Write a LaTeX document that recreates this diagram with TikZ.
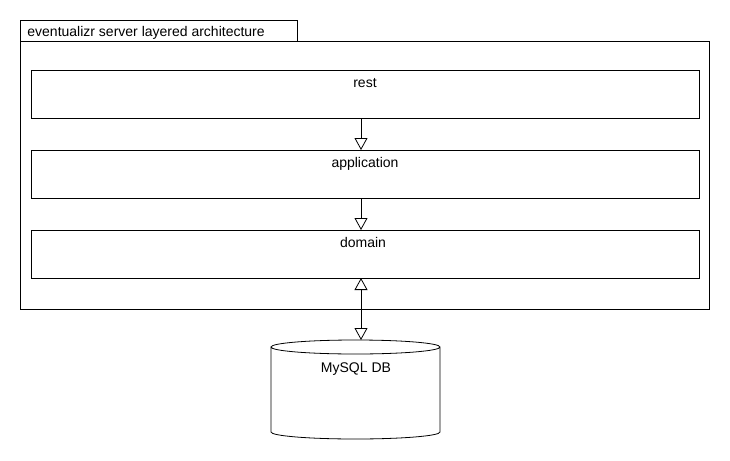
\documentclass[tikz,border=0pt]{standalone}
\usepackage{fontspec}
\setmainfont{Liberation Sans}
\usetikzlibrary{arrows.meta,positioning}
\begin{document}
\begin{tikzpicture}[x=1pt,y=-1pt,
  line width=0.8pt,
  every node/.style={font=\fontsize{14}{16}\selectfont},
  layer/.style={draw, minimum width=668pt, minimum height=48pt, anchor=north west, inner sep=0pt},
  lbl/.style={inner sep=0pt, anchor=base},
  dep/.style={-{Triangle[open,length=12pt,width=13pt,fill=white]}},
  bidep/.style={{Triangle[open,length=12pt,width=13pt,fill=white]}-{Triangle[open,length=12pt,width=13pt,fill=white]}}
]
\useasboundingbox (0,0) rectangle (730,460);
\fill[white] (0,0) rectangle (730,460);
% package
\node[draw, minimum width=277pt, minimum height=21pt, anchor=north west, inner sep=0pt] (tab) at (20,20) {};
\node[lbl, anchor=base west] (tabtxt) at (27,37) {eventualizr server layered architecture};
\node[draw, minimum width=689pt, minimum height=268pt, anchor=north west, inner sep=0pt] (pkg) at (20,41) {};
% layers
\node[layer] (rest) at (31,70) {};
\node[lbl] (restt) at (365,87) {rest};
\node[layer] (app) at (31,150) {};
\node[lbl] (appt) at (365,167) {application};
\node[layer] (dom) at (31,230) {};
\node[lbl] (domt) at (363,247) {domain};
% database
\node[minimum width=169pt, minimum height=99pt, anchor=north west, inner sep=0pt] (db) at (271,340) {};
\draw (271,347) -- (271,432) arc[start angle=180, end angle=360, x radius=84.5pt, y radius=7pt]
  -- (440,347) arc[start angle=0, end angle=180, x radius=84.5pt, y radius=7pt]
  arc[start angle=180, end angle=360, x radius=84.5pt, y radius=7pt];
\node[lbl] (dbt) at (356,372) {MySQL DB};
% connectors
\coordinate (r1) at (361,118);
\coordinate (a1) at (361,150);
\coordinate (a2) at (361,198);
\coordinate (d1) at (361,230);
\coordinate (d2) at (361,278);
\coordinate (db1) at (361,340);
\draw[dep] (r1) -- (a1);
\draw[dep] (a2) -- (d1);
\draw[bidep] (d2) -- (db1);
\end{tikzpicture}
\end{document}
